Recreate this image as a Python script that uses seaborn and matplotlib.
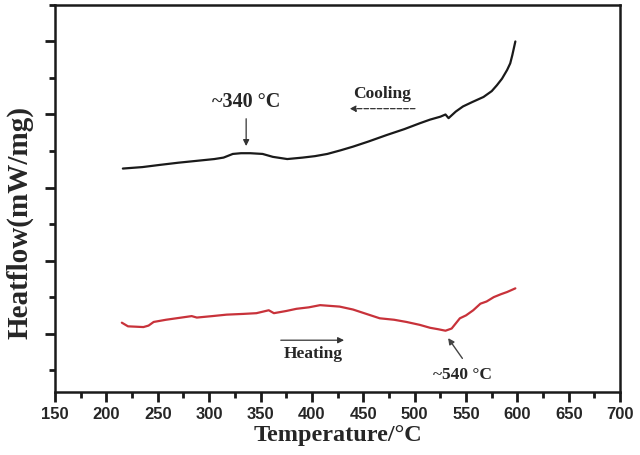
"""
DSC heat flow curves (cooling / heating) vs temperature
"""

import numpy as np
import pandas as pd
import matplotlib
matplotlib.use('Agg')
import matplotlib.pyplot as plt
from matplotlib.ticker import MultipleLocator
import seaborn as sns

# Cooling curve (black), arbitrary heat-flow units
cool_temp = [216, 235, 252, 270, 291, 305, 314, 323, 331, 340, 352, 362, 376, 391, 403, 415,
             428, 440, 455, 473, 490, 505, 515, 525, 530, 533, 540, 547, 556, 567, 575,
             580, 585, 590, 593, 595, 598]
cool_flow = [3.26, 3.28, 3.31, 3.34, 3.37, 3.39, 3.41, 3.46, 3.47, 3.47, 3.46, 3.42, 3.39, 3.41, 3.43, 3.46,
             3.51, 3.56, 3.63, 3.72, 3.80, 3.88, 3.93, 3.97, 4.00, 3.95, 4.04, 4.11, 4.17, 4.24, 4.32,
             4.40, 4.49, 4.61, 4.70, 4.81, 5.00]

# Heating curve (red)
heat_temp = [215, 221, 236, 241, 246, 258, 268, 283, 288, 303, 317, 333, 346, 358, 363, 375, 385,
             397, 408, 427, 440, 453, 466, 480, 492, 505, 515, 523, 530, 536, 544, 550, 557, 564,
             570, 577, 584, 590, 598]
heat_flow = [1.15, 1.10, 1.09, 1.11, 1.16, 1.19, 1.21, 1.24, 1.22, 1.24, 1.26, 1.27, 1.28, 1.32, 1.28, 1.31, 1.34,
             1.36, 1.39, 1.37, 1.33, 1.27, 1.21, 1.19, 1.16, 1.12, 1.08, 1.06, 1.04, 1.07, 1.21, 1.25, 1.32, 1.41,
             1.44, 1.50, 1.54, 1.57, 1.62]

x_ticks = [150, 200, 250, 300, 350, 400, 450, 500, 550, 600, 650, 700]

sns.set_style('ticks')
plt.rcParams['font.family'] = ['Liberation Serif', 'DejaVu Serif']

cool_df = pd.DataFrame({'Temperature': cool_temp, 'Heatflow': cool_flow})
heat_df = pd.DataFrame({'Temperature': heat_temp, 'Heatflow': heat_flow})

fig = plt.figure(figsize=(6.4, 4.56), dpi=100)
ax = fig.add_axes([0.086, 0.138, 0.883, 0.849])

sns.lineplot(data=cool_df, x='Temperature', y='Heatflow', ax=ax, color='#1a1a1a',
             linewidth=1.6, estimator=None)
sns.lineplot(data=heat_df, x='Temperature', y='Heatflow', ax=ax, color='#c8323a',
             linewidth=1.6, estimator=None)

ax.set_xlim(150, 700)
ax.set_ylim(0.2, 5.5)
ax.set_xticks(x_ticks)
ax.set_xticklabels([str(t) for t in x_ticks], family='Liberation Sans',
                   fontweight='bold', fontsize=12)
ax.xaxis.set_minor_locator(MultipleLocator(25))
ax.yaxis.set_major_locator(MultipleLocator(1))
ax.yaxis.set_minor_locator(MultipleLocator(0.5))
ax.set_yticklabels([])
ax.tick_params(axis='both', which='major', direction='out', length=7, width=2, color='#1a1a1a')
ax.tick_params(axis='both', which='minor', direction='out', length=4, width=2, color='#1a1a1a')
ax.tick_params(axis='x', pad=3)

for side in ['left', 'right', 'top', 'bottom']:
    ax.spines[side].set_visible(True)
    ax.spines[side].set_linewidth(1.8)
    ax.spines[side].set_color('#1a1a1a')

ax.set_xlabel('Temperature/°C', fontsize=17.5, fontweight='bold', labelpad=2)
ax.set_ylabel('Heatflow(mW/mg)', fontsize=21, fontweight='bold')
ax.yaxis.set_label_coords(-0.038, 0.44)

# Annotations
ax.text(336, 4.18, '~340 °C', ha='center', va='center', fontsize=14.5, fontweight='bold')
ax.annotate('', xy=(336, 3.53), xytext=(336, 3.98),
            arrowprops=dict(arrowstyle='-|>', color='#333333', lw=0.9, mutation_scale=9))

ax.text(468, 4.29, 'Cooling', ha='center', va='center', fontsize=12.5, fontweight='bold')
ax.annotate('', xy=(434, 4.08), xytext=(503, 4.08),
            arrowprops=dict(arrowstyle='-|>', color='#333333', lw=0.9, ls='--', mutation_scale=9))

ax.text(401, 0.73, 'Heating', ha='center', va='center', fontsize=12.5, fontweight='bold')
ax.annotate('', xy=(434, 0.91), xytext=(367, 0.91),
            arrowprops=dict(arrowstyle='-|>', color='#333333', lw=0.9, mutation_scale=9))

ax.text(547, 0.45, '~540 °C', ha='center', va='center', fontsize=12.5, fontweight='bold')
ax.annotate('', xy=(531, 0.97), xytext=(548, 0.63),
            arrowprops=dict(arrowstyle='-|>', color='#444444', lw=1.0, mutation_scale=9))

plt.savefig('out.png', dpi=100)
